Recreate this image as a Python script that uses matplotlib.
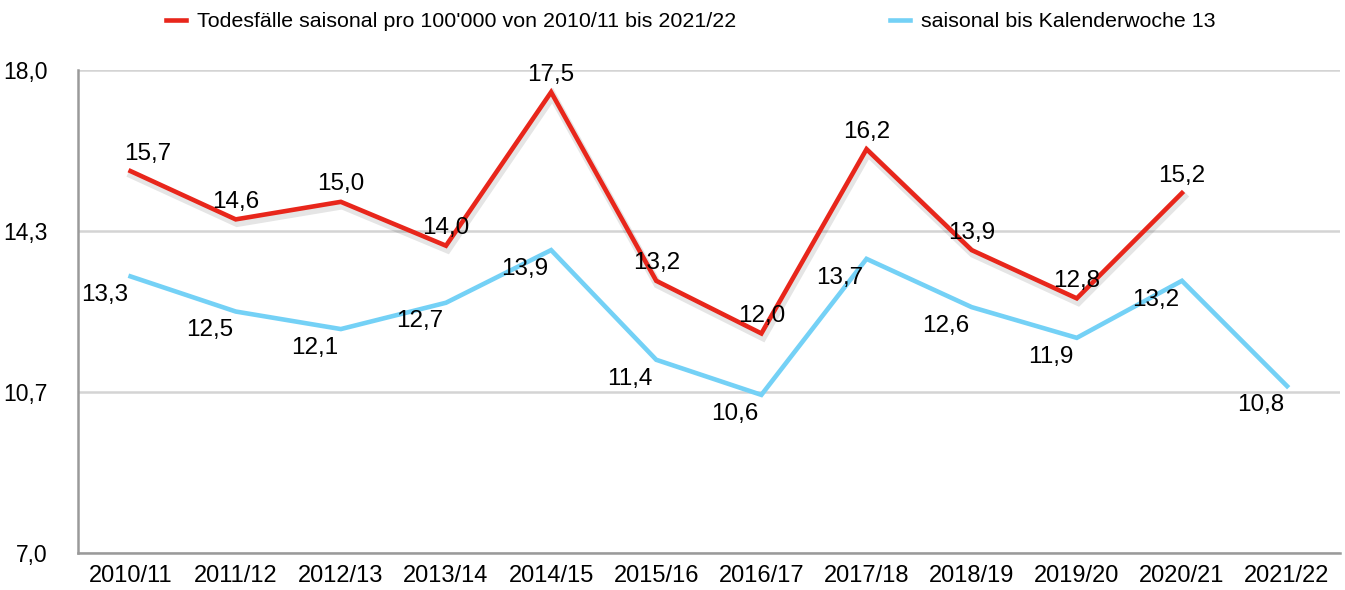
import numpy as np
import matplotlib
matplotlib.use("Agg")
import matplotlib.pyplot as plt
import matplotlib.patheffects as pe
from matplotlib.lines import Line2D

plt.rcParams['font.family'] = ['Liberation Sans', 'DejaVu Sans']

# data
seasons = ["2010/11", "2011/12", "2012/13", "2013/14", "2014/15", "2015/16",
           "2016/17", "2017/18", "2018/19", "2019/20", "2020/21", "2021/22"]
total = [15.7, 14.6, 15.0, 14.0, 17.5, 13.2, 12.0, 16.2, 13.9, 12.8, 15.2, np.nan]
week13 = [13.3, 12.5, 12.1, 12.7, 13.9, 11.4, 10.6, 13.7, 12.6, 11.9, 13.2, 10.8]
y_ticks = [7.0, 10.67, 14.33, 18.0]

label_total = "Todesfälle saisonal pro 100'000 von 2010/11 bis 2021/22"
label_week = "saisonal bis Kalenderwoche 13"

red = "#e8261b"
blue = "#74d1f6"

fig = plt.figure(figsize=(13.45, 5.9), dpi=100)
ax = fig.add_axes([0.058, 0.063, 0.938, 0.818])

x = np.arange(len(seasons))

ax.plot(x, week13, color=blue, lw=3.3, solid_joinstyle='miter', zorder=3)
ax.plot(x, total, color=red, lw=3.3, solid_joinstyle='miter', zorder=4,
        path_effects=[pe.SimpleLineShadow(offset=(1, -2.5), shadow_color='black', alpha=0.1, linewidth=6),
                      pe.Normal()])

def fmt(v):
    return f"{v:.1f}".replace(".", ",")

for i, v in enumerate(total):
    if np.isnan(v):
        continue
    dx = 12 if i == 0 else 0
    ax.annotate(fmt(v), (i, v), xytext=(dx, 12.5), textcoords='offset points',
                ha='center', va='center', fontsize=17.5, zorder=5)

for i, v in enumerate(week13):
    ax.annotate(fmt(v), (i, v), xytext=(-19, -13.5), textcoords='offset points',
                ha='center', va='center', fontsize=17.5, zorder=5)

ax.set_xlim(-0.5, len(seasons) - 0.5)
ax.set_ylim(7, 18)
ax.set_xticks(x)
ax.set_xticklabels(seasons, fontsize=17)
ax.set_yticks(y_ticks)
ax.set_yticklabels([fmt(v) for v in y_ticks], fontsize=16.5)
ax.tick_params(axis='both', length=0)
ax.tick_params(axis='x', pad=9)
ax.tick_params(axis='y', pad=22)

ax.grid(axis='y', color='#d4d4d4', lw=1.8)
ax.set_axisbelow(True)
for s in ['top', 'right']:
    ax.spines[s].set_visible(False)
for s in ['left', 'bottom']:
    ax.spines[s].set_color('#9a9a9a')
    ax.spines[s].set_linewidth(1.8)

handles = [Line2D([], [], color=red, lw=3.3), Line2D([], [], color=blue, lw=3.3)]
fig.legend(handles, [label_total, label_week], loc='upper left', bbox_to_anchor=(0.109, 1.012),
           ncol=2, frameon=False, fontsize=15.4, handlelength=0.95, handletextpad=0.5,
           columnspacing=7.2)

fig.savefig("out.png", dpi=100)
